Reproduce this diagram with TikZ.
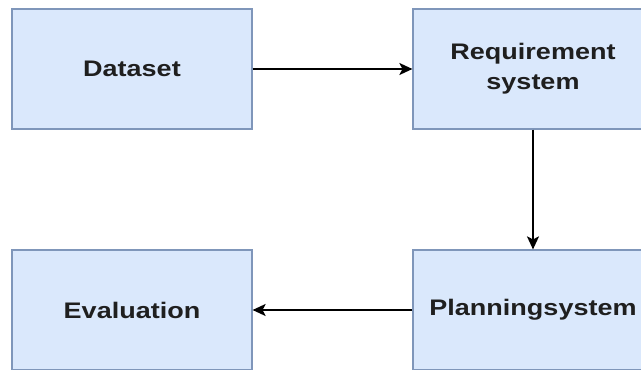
\documentclass[tikz,border=0pt]{standalone}
\usepackage{fontspec}
\setmainfont{Liberation Sans}[FakeStretch=1.2]
\usetikzlibrary{arrows.meta}
\definecolor{boxfill}{HTML}{DAE8FC}
\definecolor{boxline}{HTML}{7F96BA}
\tikzset{
  flowbox/.style={draw=boxline, fill=boxfill, line width=1.2pt, minimum width=240pt, minimum height=120pt, inner sep=0pt, align=center, font=\fontsize{22.5pt}{30pt}\selectfont\bfseries, text=black!88},
  flowarrow/.style={line width=1.4pt, -{Stealth[length=13pt,width=12pt,inset=3pt]}}
}
\begin{document}
\begin{tikzpicture}[x=1pt,y=1pt]
\useasboundingbox (0,0) rectangle (641,370);
\clip (0,0) rectangle (641,370);
\fill[white] (0,0) rectangle (641,370);
\node[flowbox] (data) at (132,301) {Dataset};
\node[flowbox] (req) at (533,301) {Requirement\\system};
\node[flowbox] (eval) at (132,60) {Evaluation};
\node[flowbox] (plan) at (533,60) {Planningsystem};
\draw[flowarrow] (data) -- (req);
\draw[flowarrow] (req) -- (plan);
\draw[flowarrow] (plan) -- (eval);
\end{tikzpicture}
\end{document}
